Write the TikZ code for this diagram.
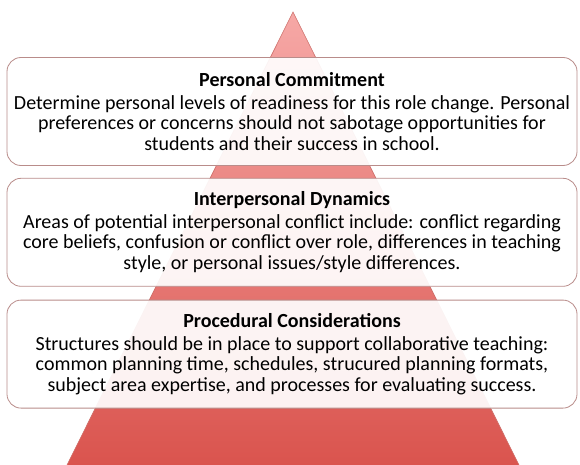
\documentclass[tikz,border=0pt]{standalone}
\usepackage{fontspec}
\setmainfont{Carlito}
\usetikzlibrary{positioning}
\definecolor{pyrtop}{RGB}{246,168,166}
\definecolor{pyrbot}{RGB}{218,84,78}
\definecolor{pyredge}{RGB}{205,110,105}
\definecolor{boxedge}{RGB}{185,140,138}
\begin{document}
\begin{tikzpicture}[x=1pt,y=-1pt,font=\fontsize{20}{20.5}\selectfont,
  layer/.style={draw=boxedge,line width=0.8pt,rounded corners=14pt,fill=white,fill opacity=0.92,text opacity=1,
    minimum width=570pt,minimum height=108pt,align=center,inner sep=0pt}]
\useasboundingbox(0,0) rectangle (580,465);
\coordinate(apex) at (293,12);
\coordinate(baseL) at (67,465);
\coordinate(baseR) at (519,465);
\shade[top color=pyrtop,bottom color=pyrbot](apex)--(baseL)--(baseR)--cycle;
\draw[pyredge,line width=0.6pt](baseL)--(apex)--(baseR);
\node[layer](commit) at (292,111.5){\textbf{Personal Commitment}\\[2pt]
  Determine personal levels of readiness for this role change. Personal\\
  preferences or concerns should not sabotage opportunities for\\
  students and their success in school.};
\node[layer,below=12pt of commit](dynamics){\textbf{Interpersonal Dynamics}\\[2pt]
  Areas of potential interpersonal conflict include: conflict regarding\\
  core beliefs, confusion or conflict over role, differences in teaching\\
  style, or personal issues/style differences.};
\node[layer,below=13pt of dynamics](procedure){\textbf{Procedural Considerations}\\[2pt]
  Structures should be in place to support collaborative teaching:\\
  common planning time, schedules, strucured planning formats,\\
  subject area expertise, and processes for evaluating success.};
\end{tikzpicture}
\end{document}
